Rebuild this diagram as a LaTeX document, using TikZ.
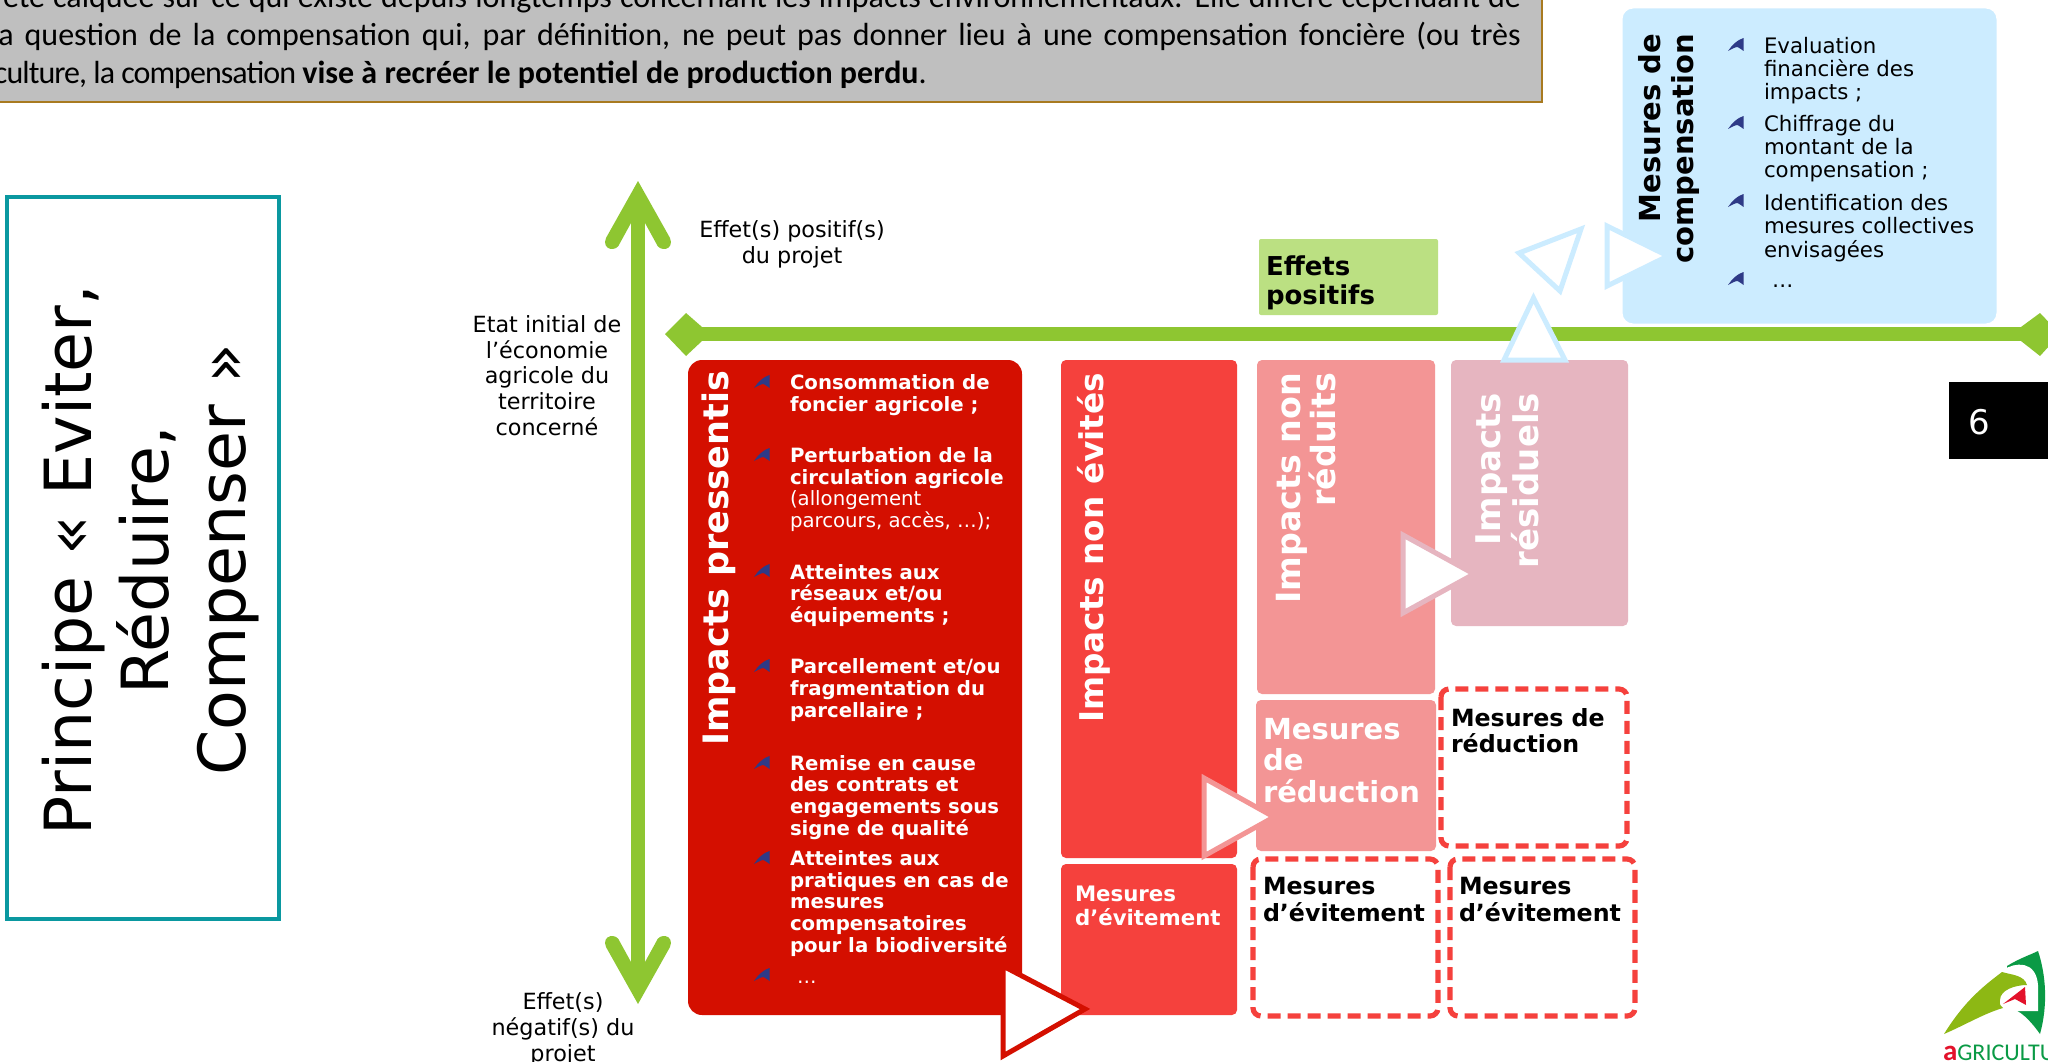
\documentclass[tikz,border=0pt]{standalone}
\usepackage{fontspec}
\usetikzlibrary{calc}
\setmainfont{DejaVu Sans}
\newfontfamily\calib{Carlito}
\newcommand{\setfs}[2]{\fontsize{#1}{#2}\selectfont}
\definecolor{greybox}{HTML}{BFBFBF}
\definecolor{greyedge}{HTML}{A87A20}
\definecolor{tealedge}{HTML}{0A98A0}
\definecolor{axisgreen}{HTML}{8EC631}
\definecolor{redA}{HTML}{D40F00}
\definecolor{redB}{HTML}{F5413D}
\definecolor{redC}{HTML}{F39595}
\definecolor{redD}{HTML}{E6B5C0}
\definecolor{blueL}{HTML}{CCECFF}
\definecolor{greenL}{HTML}{BBE082}
\definecolor{bulblue}{HTML}{2E3A87}
\definecolor{logoDark}{HTML}{0A9A45}
\definecolor{logoLight}{HTML}{8DB814}
\definecolor{logoRed}{HTML}{E3122B}
\tikzset{
  lab/.style={inner sep=0pt,outer sep=0pt},
  plainlab/.style={lab,align=center,anchor=base,font=\setfs{22.3}{25.6}},
  redlist/.style={lab,align=left,anchor=base west,text=white,font=\setfs{19.7}{21.6}\bfseries},
  bluelist/.style={lab,align=left,anchor=base west,font=\setfs{21.3}{23.2}},
  vert/.style={lab,rotate=90,align=right,anchor=base east,text=white,font=\bfseries},
  solidbox/.style={rounded corners=5pt},
  dashbox/.style={draw=redB,line width=5.2pt,rounded corners=8pt,dash pattern=on 13pt off 7pt},
  tri/.style={fill=white,line width=5pt,miter limit=10,line join=miter},
  axisline/.style={draw=axisgreen,line width=14.5pt},
  bullet/.pic={\fill[bulblue] (15.5,0) .. controls (9,2) and (4,7) .. (0,13) .. controls (4,11) and (7,9) .. (9.5,9) .. controls (12,10) and (14,12) .. (15.5,13) -- cycle;},
  boxhead/.pic={\fill[axisgreen] (0,0) -- (-32,-57) .. controls (-37,-69) and (-21,-72) .. (-18,-62) -- (-7,-42) -- (7,-42) -- (18,-62) .. controls (21,-72) and (37,-69) .. (32,-57) -- cycle;}
}
\begin{document}
\begin{tikzpicture}[x=1pt,y=-1pt]
\useasboundingbox (0,0) rectangle (2048,1062);
\clip (0,0) rectangle (2048,1062);
\fill[white] (0,0) rectangle (2048,1062);
% grey note
\fill[greybox,draw=greyedge,line width=1.5pt] (-10,-10) rectangle (1542,102);
\node[lab,anchor=base west,font=\calib\setfs{32}{38}] (noteA) at (3,8) {\makebox[1518pt][s]{été calquée sur ce qui existe depuis longtemps concernant les impacts environnementaux. Elle diffère cependant de}};
\node[lab,anchor=base west,font=\calib\setfs{32}{38}] (noteB) at (-9,46) {\makebox[1530pt][s]{la question de la compensation qui, par définition, ne peut pas donner lieu à une compensation foncière (ou très}};
\node[lab,anchor=base west,font=\calib\setfs{32}{38}] (noteC) at (-6,84) {{\addfontfeature{LetterSpace=-3}culture, la compensation} \textbf{vise à recréer le potentiel de production perdu}.};
% title box
\draw[tealedge,line width=3.5pt,fill=white] (7,197) rectangle (279,919);
\node[lab,rotate=90,align=center,anchor=base,font=\setfs{65}{77}] (title) at (245,560) {Principe « Eviter,\\Réduire,\\Compenser »};
% axes
\coordinate (axisTop) at (638,181);
\coordinate (axisBottom) at (638,1004);
\coordinate (axisLeft) at (690,334);
\coordinate (axisRight) at (2030,334);
\draw[axisline] ($(axisTop)+(0,30)$) -- ($(axisBottom)+(0,-30)$);
\pic[yscale=-1] at (axisTop) {boxhead};
\pic at (axisBottom) {boxhead};
\draw[axisline] (axisLeft) -- (axisRight);
\fill[axisgreen] (665,334) -- (686,313) -- (702,327) -- (702,341) -- (686,356) -- cycle;
\fill[axisgreen] (2021,327) -- (2040,313) -- (2060,334) -- (2040,356) -- (2021,341) -- cycle;
% side labels
\node[plainlab] (posLab) at (792,263) {Effet(s) positif(s)\\du projet};
\node[plainlab] (initLab) at (547,435) {Etat initial de\\l’économie\\agricole du\\territoire\\concerné};
\node[plainlab] (negLab) at (563,1061) {Effet(s)\\négatif(s) du\\projet};
% boxes
\fill[redA,rounded corners=14pt] (688,360) rectangle (1022,1015);
\fill[redB,solidbox] (1061,360) rectangle (1237,858);
\fill[redB,solidbox] (1061,864) rectangle (1237,1015);
\fill[redC,solidbox] (1257,360) rectangle (1435,694);
\fill[redC,solidbox] (1256,700) rectangle (1436,851);
\fill[redD,solidbox] (1451,360) rectangle (1628,626);
\draw[dashbox] (1441,689) rectangle (1627,846);
\draw[dashbox] (1253,859) rectangle (1438,1016);
\draw[dashbox] (1450,859) rectangle (1635,1016);
\fill[greenL,rounded corners=2pt] (1259,239) rectangle (1438,315);
\fill[blueL,draw=white,line width=3pt,rounded corners=12pt] (1621,7) rectangle (1998,325);
% vertical titles
\node[vert,font=\setfs{35}{36}\bfseries] (vA) at (728,371) {Impacts pressentis};
\node[vert,font=\setfs{32.7}{36}\bfseries] (vB) at (1103,373) {Impacts non évités};
\node[vert,font=\setfs{33.3}{35}\bfseries] (vC) at (1335,373) {Impacts non\\réduits};
\node[vert,font=\setfs{34}{38}\bfseries] (vD) at (1538,393) {Impacts\\résiduels};
\node[vert,text=black,font=\setfs{29}{33}\bfseries] (vE) at (1693.5,34) {Mesures de\\compensation};
% red list
\foreach \by in {375,448,564,659,756,851,968} \pic at (754,\by) {bullet};
\node[redlist] (i1) at (790,411.5) {Consommation de\\foncier agricole ;};
\node[redlist] (i2) at (790,527.5) {Perturbation de la\\circulation agricole\\\mdseries(allongement\\\mdseries parcours, accès, …);};
\node[redlist] (i3) at (790,622.5) {Atteintes aux\\réseaux et/ou\\équipements ;};
\node[redlist] (i4) at (790,717) {Parcellement et/ou\\fragmentation du\\parcellaire ;};
\node[redlist] (i5) at (790,835) {Remise en cause\\des contrats et\\engagements sous\\signe de qualité};
\node[redlist] (i6) at (790,952) {Atteintes aux\\pratiques en cas de\\mesures\\compensatoires\\pour la biodiversité};
\node[redlist,font=\setfs{19.5}{21.6}] (i7) at (797,983) {…};
% box labels
\node[lab,align=left,anchor=base west,text=white,font=\setfs{21.3}{24}\bfseries] (mE) at (1075,925) {Mesures\\d’évitement};
\node[lab,align=left,anchor=base west,text=white,font=\setfs{29}{31.5}\bfseries] (mR) at (1263,802) {Mesures\\de\\réduction};
\node[lab,align=left,anchor=base west,font=\setfs{23.7}{26}\bfseries] (mR2) at (1451,752) {Mesures de\\réduction};
\node[lab,align=left,anchor=base west,font=\setfs{23.7}{26.5}\bfseries] (mE2) at (1263,921) {Mesures\\d’évitement};
\node[lab,align=left,anchor=base west,font=\setfs{23.7}{26.5}\bfseries] (mE3) at (1459,921) {Mesures\\d’évitement};
\node[lab,align=left,anchor=base west,font=\setfs{26}{29}\bfseries] (ep) at (1266,304) {Effets\\positifs};
% blue list
\foreach \by in {38,116,194,272} \pic at (1728,\by) {bullet};
\node[bluelist] (b1) at (1764,100) {Evaluation\\financière des\\impacts ;};
\node[bluelist] (b2) at (1764,178) {Chiffrage du\\montant de la\\compensation ;};
\node[bluelist] (b3) at (1764,257) {Identification des\\mesures collectives\\envisagées};
\node[bluelist] (b4) at (1772,287) {…};
% triangles
\draw[tri,draw=redA] (1003,966) -- (1003,1056) -- (1085,1009) -- cycle;
\draw[tri,draw=redC] (1204,778) -- (1204,856) -- (1274,817) -- cycle;
\draw[tri,draw=redD] (1403,535) -- (1403,613) -- (1474,574) -- cycle;
\draw[tri,draw=blueL] (1607,226) -- (1607,286) -- (1668,256) -- cycle;
\draw[tri,draw=blueL] (1581,229) -- (1519,253) -- (1560,291) -- cycle;
\draw[tri,draw=blueL] (1533.5,298) -- (1504,360) -- (1565,360) -- cycle;
% page number
\fill[black] (1949,382) rectangle (2060,459);
\node[lab,anchor=center,text=white,font=\setfs{34}{36}] (pg) at (1979,422) {6};
% logo
\fill[logoDark] (2007,966) .. controls (2020,958) and (2030,955) .. (2038,951) .. controls (2046,975) and (2048,1005) .. (2040,1034) .. controls (2030,1020) and (2020,1010) .. (2010,1008) -- cycle;
\fill[white] (2003,970) .. controls (2015,962) and (2036,960) .. (2038,985) -- (2038,1011) -- (2010,1011) .. controls (1998,1005) and (1998,990) .. (2005,985) -- cycle;
\fill[logoLight] (1944,1034) .. controls (1965,1000) and (1985,985) .. (2002,972) .. controls (2012,975) and (2024,975) .. (2027,985) .. controls (2015,985) and (2000,990) .. (2000,1000) .. controls (1999,1004) and (2001,1007) .. (2003,1008) .. controls (1985,1013) and (1965,1025) .. (1944,1034) -- cycle;
\fill[logoRed] (2003,1004) -- (2025,987) -- (2026,1005) -- (2015,999) -- cycle;
\node[lab,anchor=base west,text=logoDark,font=\calib\setfs{24}{24}] (logo) at (1943,1060) {\textcolor{logoRed}{\fontsize{29}{29}\selectfont\textbf{a}}GRICULTU};
\end{tikzpicture}
\end{document}
